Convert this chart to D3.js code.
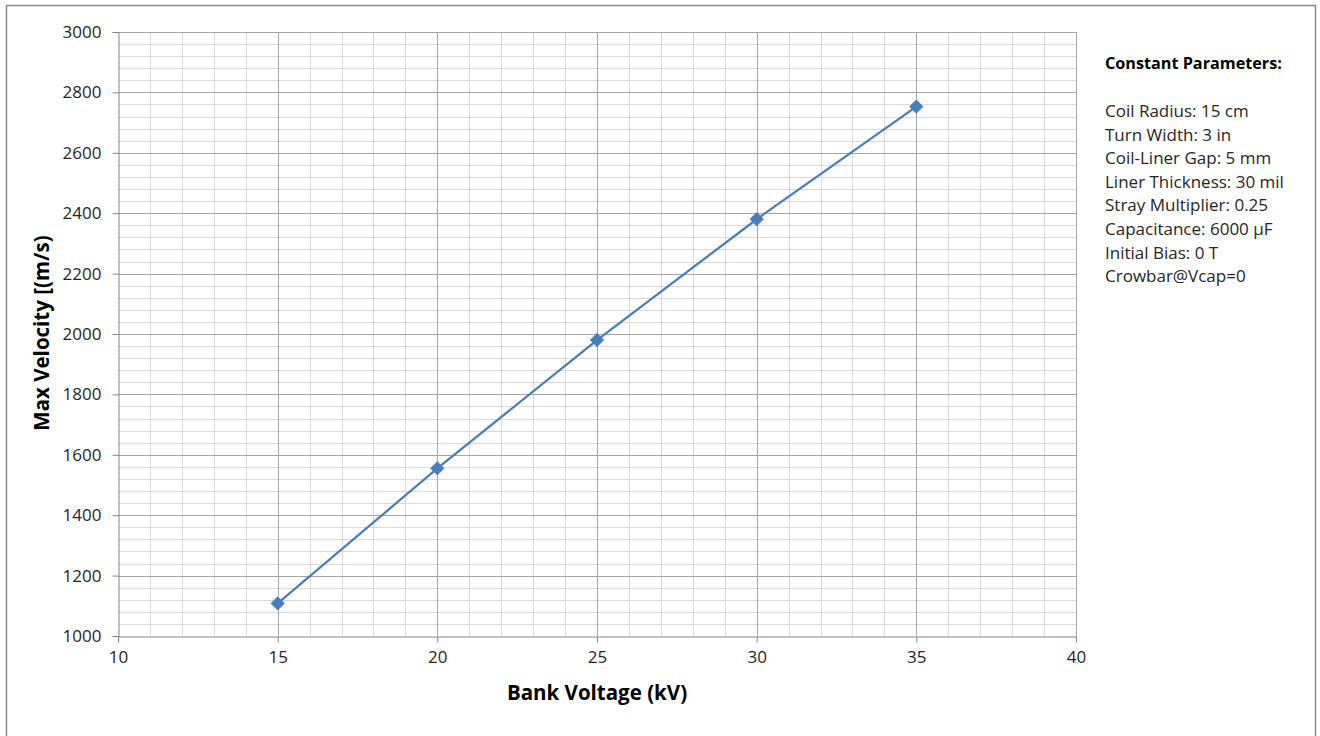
<!DOCTYPE html>
<html><head><meta charset="utf-8">
<script src="https://cdn.jsdelivr.net/npm/d3@7"></script>
<style>body{margin:0;background:#fff}svg{display:block}</style>
</head><body>
<svg id="c" width="1320" height="736"></svg>
<script>
const voltages = [15, 20, 25, 30, 35];
const velocities = [1108, 1555, 1980, 2380, 2753];
const xTicks = [10, 15, 20, 25, 30, 35, 40];
const yTicks = [1000, 1200, 1400, 1600, 1800, 2000, 2200, 2400, 2600, 2800, 3000];
const paramTitle = "Constant Parameters:";
const paramLines = ["Coil Radius: 15 cm", "Turn Width: 3 in", "Coil-Liner Gap: 5 mm", "Liner Thickness: 30 mil", "Stray Multiplier: 0.25", "Capacitance: 6000 µF", "Initial Bias: 0 T", "Crowbar@Vcap=0"];

const font = "'Open Sans', Lato, sans-serif";
const svg = d3.select("#c");
svg.append("rect").attr("x", 6.5).attr("y", 5.5).attr("width", 1309).attr("height", 740)
  .attr("fill", "#fff").attr("stroke", "#888").attr("stroke-width", 1.5);

const x = d3.scaleLinear().domain([10, 40]).range([118, 1076]);
const y = d3.scaleLinear().domain([1000, 3000]).range([636, 32]);
const g = svg.append("g");

// minor grid
g.append("g").selectAll("line").data(d3.range(10, 41, 1).filter(v => v % 5 !== 0)).join("line")
  .attr("x1", d => Math.round(x(d)) + 0.5).attr("x2", d => Math.round(x(d)) + 0.5)
  .attr("y1", y(3000)).attr("y2", y(1000)).attr("stroke", "#d9d9d9").attr("stroke-width", 1);
g.append("g").selectAll("line").data(d3.range(1000, 3001, 40).filter(v => (v - 1000) % 200 !== 0)).join("line")
  .attr("y1", d => Math.round(y(d)) + 0.5).attr("y2", d => Math.round(y(d)) + 0.5)
  .attr("x1", x(10)).attr("x2", x(40)).attr("stroke", "#d9d9d9").attr("stroke-width", 1);
// major grid
g.append("g").selectAll("line").data(xTicks.slice(1)).join("line")
  .attr("x1", d => Math.round(x(d)) + 0.5).attr("x2", d => Math.round(x(d)) + 0.5)
  .attr("y1", y(3000)).attr("y2", y(1000)).attr("stroke", "#a6a6a6").attr("stroke-width", 1);
g.append("g").selectAll("line").data(yTicks.slice(1)).join("line")
  .attr("y1", d => Math.round(y(d)) + 0.5).attr("y2", d => Math.round(y(d)) + 0.5)
  .attr("x1", x(10)).attr("x2", x(40)).attr("stroke", "#a6a6a6").attr("stroke-width", 1);

// axes
const xAxis = d3.axisBottom(x).tickValues(xTicks).tickSize(6).tickPadding(8).tickFormat(d3.format("d"));
const yAxis = d3.axisLeft(y).tickValues(yTicks).tickSize(6).tickPadding(11).tickFormat(d3.format("d"));
const xa = g.append("g").attr("transform", `translate(0,${Math.round(y(1000)) + 0.5})`).call(xAxis);
const ya = g.append("g").attr("transform", `translate(${Math.round(x(10)) + 0.5},0)`).call(yAxis);
[xa, ya].forEach(a => {
  a.select(".domain").attr("stroke", "#868686").attr("stroke-width", 1);
  a.selectAll(".tick line").attr("stroke", "#868686");
  a.selectAll("text").attr("font-family", font).attr("font-size", 17).attr("fill", "#262626");
});

// series
const line = d3.line().x((d, i) => x(voltages[i])).y(d => y(d));
g.append("path").datum(velocities).attr("d", line).attr("fill", "none")
  .attr("stroke", "#4a7ebb").attr("stroke-width", 2.25);
g.append("g").selectAll("path").data(velocities).join("path")
  .attr("d", d3.symbol().type(d3.symbolDiamond2).size(110))
  .attr("transform", (d, i) => `translate(${x(voltages[i])},${y(d)})`)
  .attr("fill", "#4a7ebb").attr("stroke", "#4a7ebb").attr("stroke-width", 1);

// titles
svg.append("text").attr("x", 597).attr("y", 700).attr("text-anchor", "middle")
  .attr("font-family", font).attr("font-weight", "bold").attr("font-size", 20.5).attr("fill", "#000")
  .text("Bank Voltage (kV)");
svg.append("text").attr("transform", "translate(49,333) rotate(-90)").attr("text-anchor", "middle")
  .attr("font-family", font).attr("font-weight", "bold").attr("font-size", 20.5).attr("fill", "#000")
  .text("Max Velocity [(m/s)");

// parameter box
svg.append("text").attr("x", 1105).attr("y", 69).attr("font-family", font).attr("font-weight", "bold")
  .attr("font-size", 16.2).attr("fill", "#000").text(paramTitle);
svg.append("g").selectAll("text").data(paramLines).join("text")
  .attr("x", 1105).attr("y", (d, i) => 117 + i * 23.6)
  .attr("font-family", font).attr("font-size", 17).attr("fill", "#262626").text(d => d);
</script>
</body></html>
